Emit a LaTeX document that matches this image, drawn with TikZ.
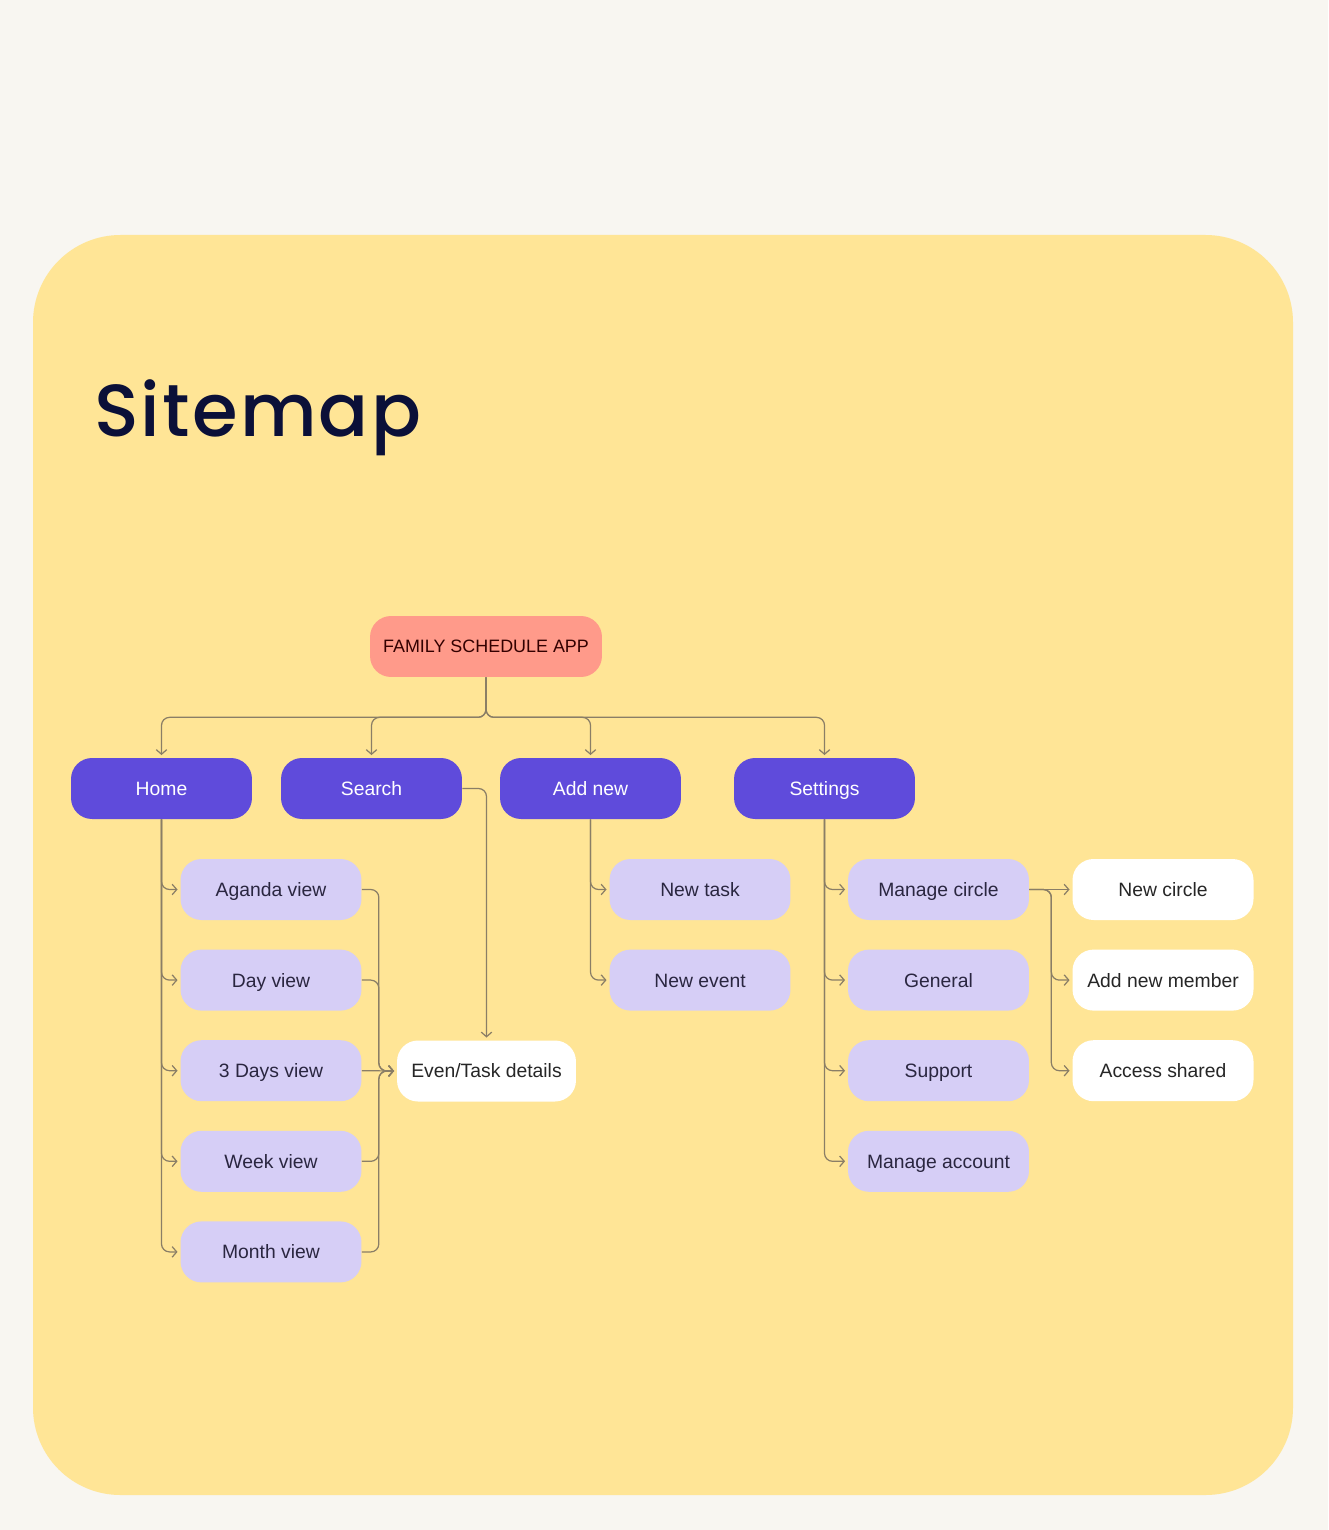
\documentclass[tikz,border=0pt]{standalone}
\usepackage{xcolor}
\usepackage{fontspec}
\usepackage{tikz}
\usetikzlibrary{arrows.meta,shapes,positioning,backgrounds}
\setmainfont{Liberation Sans}
\newfontfamily\titlefont[LetterSpace=3]{Poppins Medium}

\definecolor{pagebg}{HTML}{F8F6F1}
\definecolor{cardbg}{HTML}{FFE596}
\definecolor{rootfill}{HTML}{FF9A8A}
\definecolor{topfill}{HTML}{5F4BDB}
\definecolor{subfill}{HTML}{D6CEF6}
\definecolor{linkcol}{HTML}{8A7E66}
\definecolor{titlecol}{HTML}{0B1038}
\definecolor{textcol}{HTML}{2A2640}

\begin{document}
\begin{tikzpicture}[x=0.02cm,y=-0.02cm,
    box/.style={rectangle,rounded corners=0.42cm,minimum width=3.62cm,minimum height=1.22cm,
        inner sep=0pt,text height=7.9pt,text depth=0pt,
        font=\fontsize{11}{13}\selectfont,text=textcol},
    rootbox/.style={box,fill=rootfill,minimum width=4.64cm,text=black!80!red,
        text height=7.3pt,font=\fontsize{10.2}{12}\selectfont},
    topbox/.style={box,fill=topfill,text=white},
    subbox/.style={box,fill=subfill},
    leafbox/.style={box,fill=white,text=black!85},
    link/.style={draw=linkcol,line width=0.7pt,rounded corners=0.16cm,
        -{Straight Barb[length=2.6pt,width=6pt]},shorten >=1.5pt}
    ]
    \useasboundingbox (0,0) rectangle (1328,1530);
    \fill[pagebg] (0,0) rectangle (1328,1530);
    \fill[cardbg,rounded corners=1.75cm] (33,235) rectangle (1293,1495);

    \node[anchor=base west,text=titlecol,font=\titlefont\fontsize{42}{50}\selectfont]
        (title) at (88,437) {Sitemap};

    % top levels
    \path
        (486,646.5) node[rootbox] (app){FAMILY SCHEDULE APP}
        (161.5,788.5) node[topbox] (home){Home}
     ++ (210,0)     node[topbox] (search){Search}
     ++ (219,0)     node[topbox] (addnew){Add new}
     ++ (234,0)     node[topbox] (settings){Settings}
     ;

    % home views
    \path
        (271,889.5) node[subbox] (agenda){Aganda view}
     ++ (0,90.6)    node[subbox] (dayv){Day view}
     ++ (0,90.6)    node[subbox] (threev){3 Days view}
     ++ (0,90.6)    node[subbox] (weekv){Week view}
     ++ (0,90.6)    node[subbox] (monthv){Month view}
        (486.5,1071) node[leafbox,minimum width=3.58cm] (details){Even/Task details}
     ;

    % add new + settings
    \path
        (700,889.5) node[subbox] (newtask){New task}
     ++ (0,90.6)    node[subbox] (newevent){New event}
        (938.5,889.5) node[subbox] (mcircle){Manage circle}
     ++ (0,90.6)    node[subbox] (general){General}
     ++ (0,90.6)    node[subbox] (support){Support}
     ++ (0,90.6)    node[subbox] (maccount){Manage account}
        (1163,889.5) node[leafbox] (newcircle){New circle}
     ++ (0,90.6)    node[leafbox] (addmember){Add new member}
     ++ (0,90.6)    node[leafbox] (access){Access shared}
     ;

    \draw [link] (app.south) -- ++(0,40) -| (home.north);
    \draw [link] (app.south) -- ++(0,40) -| (search.north);
    \draw [link] (app.south) -- ++(0,40) -| (addnew.north);
    \draw [link] (app.south) -- ++(0,40) -| (settings.north);

    \draw [link] (home.south) |- (agenda.west);
    \draw [link] (home.south) |- (dayv.west);
    \draw [link] (home.south) |- (threev.west);
    \draw [link] (home.south) |- (weekv.west);
    \draw [link] (home.south) |- (monthv.west);

    \draw [link] (agenda.east) -- ++(17,0) |- (details.west);
    \draw [link] (dayv.east) -- ++(17,0) |- (details.west);
    \draw [link] (threev.east) -- (details.west);
    \draw [link] (weekv.east) -- ++(17,0) |- (details.west);
    \draw [link] (monthv.east) -- ++(17,0) |- (details.west);
    \draw [link] (search.east) -| (details.north);

    \draw [link] (addnew.south) |- (newtask.west);
    \draw [link] (addnew.south) |- (newevent.west);

    \draw [link] (settings.south) |- (mcircle.west);
    \draw [link] (settings.south) |- (general.west);
    \draw [link] (settings.south) |- (support.west);
    \draw [link] (settings.south) |- (maccount.west);

    \draw [link] (mcircle.east) -- (newcircle.west);
    \draw [link] (mcircle.east) -- ++(22,0) |- (addmember.west);
    \draw [link] (mcircle.east) -- ++(22,0) |- (access.west);
\end{tikzpicture}
\end{document}
